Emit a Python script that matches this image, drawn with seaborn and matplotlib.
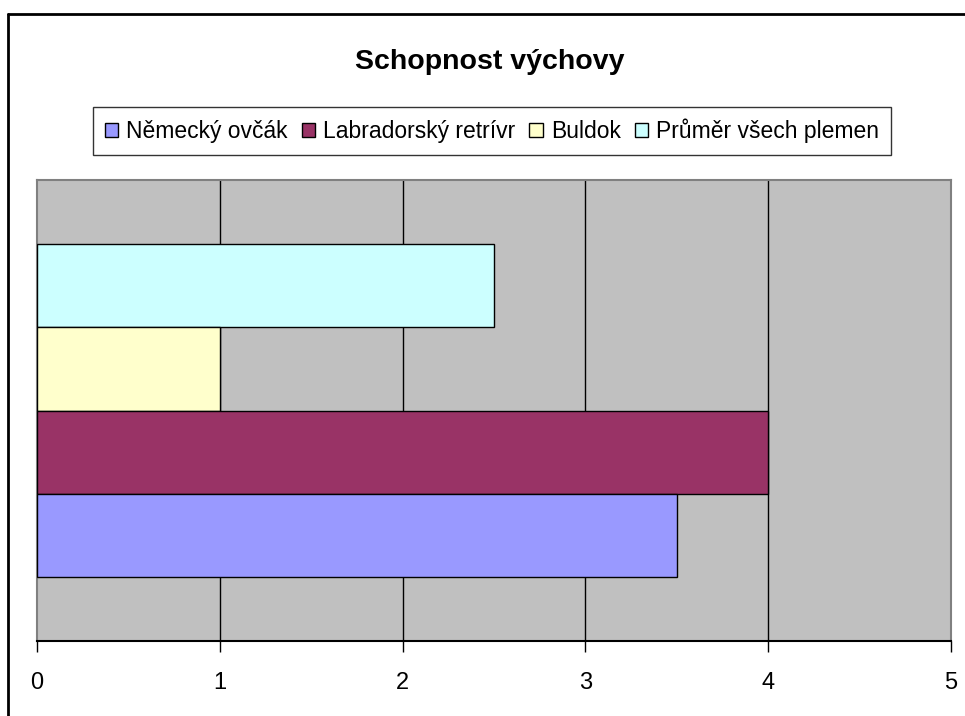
import matplotlib
matplotlib.use("Agg")
import matplotlib.pyplot as plt
from matplotlib.patches import Patch
from matplotlib.lines import Line2D
import pandas as pd
import seaborn as sns

TITLE = "Schopnost výchovy"
breeds = ["Německý ovčák", "Labradorský retrívr", "Buldok", "Průměr všech plemen"]
values = [3.5, 4.0, 1.0, 2.5]
colors = ["#9999FF", "#993366", "#FFFFCC", "#CCFFFF"]
x_ticks = [0, 1, 2, 3, 4, 5]


def main():
    sns.set_style("white")
    plt.rcParams['font.family'] = ['Liberation Sans', 'DejaVu Sans']
    plt.rcParams['text.color'] = 'black'
    plt.rcParams['xtick.color'] = 'black'
    plt.rcParams['xtick.labelcolor'] = 'black'

    df = pd.DataFrame({"cat": ["x"] * len(breeds), "breed": breeds, "value": values})
    palette = dict(zip(breeds, colors))

    fig = plt.figure(figsize=(9.65, 7.16), dpi=100)
    ax = fig.add_axes([37 / 965, 1 - 641 / 716, (951 - 37) / 965, (641 - 180) / 716])
    ax.set_facecolor("#C0C0C0")

    # bottom-most bar in the picture is the first breed, so draw in reverse hue order
    sns.barplot(data=df, y="cat", x="value", hue="breed", hue_order=breeds[::-1],
                palette=palette, orient="h", width=0.722, dodge=True,
                edgecolor="black", linewidth=1, saturation=1, legend=False, ax=ax, zorder=3)

    ax.set_xlim(0, 5)
    ax.set_ylim(0.5, -0.5)
    ax.set_xticks(x_ticks)
    ax.set_xticklabels([str(t) for t in x_ticks])
    ax.set_yticks([])
    ax.set_xlabel("")
    ax.set_ylabel("")
    for t in x_ticks[1:-1]:
        ax.axvline(t, color="black", linewidth=1, zorder=1)
    ax.tick_params(axis="x", direction="out", length=8, width=1, color="black", pad=14,
                   bottom=True, labelsize=17, labelcolor="black")
    for side in ["left", "top", "right"]:
        ax.spines[side].set_color("#808080")
        ax.spines[side].set_linewidth(1.5)
    ax.spines["bottom"].set_color("black")
    ax.spines["bottom"].set_linewidth(1.5)

    fig.text(490 / 965, 1 - 62 / 716, TITLE, ha="center", va="center", fontsize=20.5,
             fontweight="bold", color="black")

    handles = [Patch(facecolor=c, edgecolor="black", linewidth=1) for c in colors]
    leg = fig.legend(handles, breeds, loc="center", bbox_to_anchor=(492 / 965, 1 - 131 / 716),
                     ncol=4, fontsize=16.5, frameon=True, fancybox=False, edgecolor="black",
                     handlelength=0.6, handleheight=0.6, handletextpad=0.35, columnspacing=0.6,
                     borderpad=0.5, borderaxespad=0)
    leg.get_frame().set_linewidth(1)

    # outer chart border (only top and left edges visible)
    fig.add_artist(Line2D([8 / 965, 8 / 965], [0, 1 - 14 / 716], color="black", linewidth=2,
                          transform=fig.transFigure))
    fig.add_artist(Line2D([8 / 965, 1], [1 - 14 / 716, 1 - 14 / 716], color="black", linewidth=2,
                          transform=fig.transFigure))

    fig.savefig("out.png", dpi=100)
    plt.close(fig)


if __name__ == "__main__":
    main()
